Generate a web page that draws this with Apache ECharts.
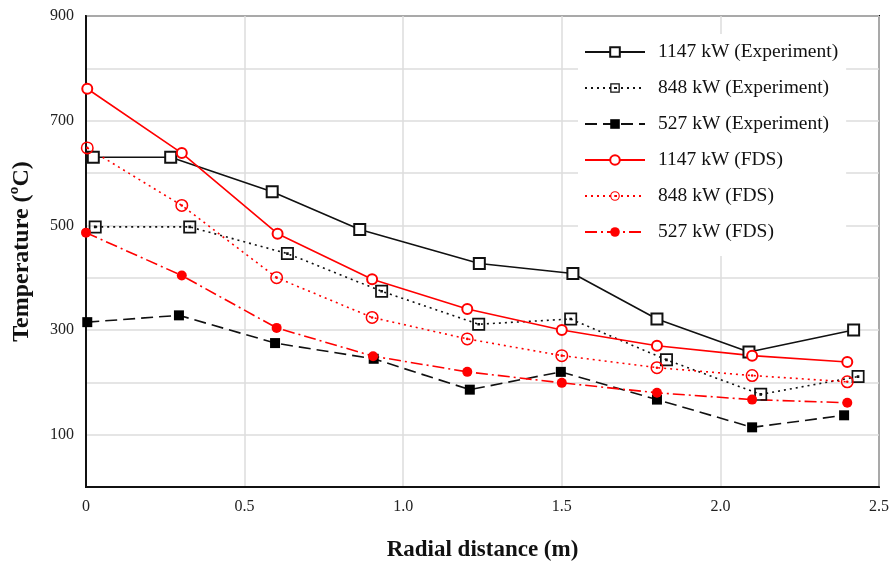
<!DOCTYPE html>
<html>
<head>
<meta charset="utf-8">
<script src="https://cdn.jsdelivr.net/npm/echarts@6/dist/echarts.min.js"></script>
<style>
  html, body { margin: 0; padding: 0; background: #fff; }
  #chart { width: 892px; height: 567px; }
</style>
</head>
<body>
<div id="chart"></div>
<script>
// values: [radial distance (m), temperature (C)]
const exp1147 = [[0.023, 630], [0.267, 630], [0.587, 564], [0.863, 492], [1.24, 427], [1.535, 408], [1.80, 321], [2.09, 258], [2.42, 300]];
const exp848  = [[0.029, 497], [0.327, 497], [0.635, 446], [0.932, 374], [1.238, 311], [1.528, 321], [1.83, 243], [2.127, 177], [2.434, 211]];
const exp527  = [[0.004, 315], [0.293, 328], [0.596, 275], [0.907, 245], [1.21, 186], [1.497, 220], [1.80, 167], [2.10, 114], [2.39, 137]];
const fds1147 = [[0.004, 761], [0.302, 638], [0.604, 484], [0.902, 397], [1.202, 340], [1.50, 300], [1.80, 270], [2.10, 251], [2.40, 239]];
const fds848  = [[0.004, 648], [0.302, 538], [0.601, 400], [0.902, 324], [1.202, 283], [1.50, 251], [1.80, 228], [2.10, 213], [2.40, 201]];
const fds527  = [[0.0, 486], [0.302, 404], [0.601, 304], [0.905, 250], [1.202, 220], [1.50, 199], [1.80, 180], [2.10, 167], [2.40, 161]];

const seriesNames = [
    '1147 kW (Experiment)', '848 kW (Experiment)', '527 kW (Experiment)',
    '1147 kW (FDS)', '848 kW (FDS)', '527 kW (FDS)'
];

const serif = '"Liberation Serif", "DejaVu Serif", serif';

// square outline with a dot in the middle, circle outline with a dot
const dotSquare = 'path://M0,0H12V12H0Z M1.6,1.6V10.4H10.4V1.6Z M4.8,4.8H7.2V7.2H4.8Z';
const dotCircle = 'path://M6,0A6,6 0 1,1 6,12A6,6 0 1,1 6,0Z M6,1.4A4.6,4.6 0 1,0 6,10.6A4.6,4.6 0 1,0 6,1.4Z M6,4.8A1.2,1.2 0 1,1 6,7.2A1.2,1.2 0 1,1 6,4.8Z';

function mkSeries(name, data, color, dash, symbol, size, itemStyle) {
    return {
        name: name,
        type: 'line',
        data: data,
        symbol: symbol,
        symbolSize: size,
        lineStyle: { color: color, width: 1.6, type: dash },
        itemStyle: itemStyle,
        emphasis: { disabled: true },
        z: 3
    };
}

const chart = echarts.init(document.getElementById('chart'));

const option = {
    backgroundColor: '#fff',
    animation: false,
    grid: {
        left: 86, right: 9, top: 16, bottom: 78,
        show: true, borderColor: '#111', borderWidth: 2
    },
    legend: {
        orient: 'vertical',
        left: 578, top: 34,
        data: seriesNames,
        itemWidth: 60, itemHeight: 12, itemGap: 16,
        backgroundColor: '#fff',
        padding: [8, 8, 14, 6],
        textStyle: { fontFamily: serif, fontSize: 19.5, color: '#111', padding: [0, 0, 0, 8] }
    },
    xAxis: {
        type: 'value',
        min: 0, max: 2.5, interval: 0.5,
        name: 'Radial distance (m)',
        nameLocation: 'middle',
        nameGap: 52,
        nameTextStyle: { fontFamily: serif, fontSize: 23, fontWeight: 'bold', color: '#111' },
        axisLine: { show: true, lineStyle: { color: '#111', width: 2 } },
        axisTick: { show: false },
        axisLabel: {
            fontFamily: serif, fontSize: 16, color: '#222', margin: 12,
            formatter: function (v) { return v === 0 ? '0' : v.toFixed(1); }
        },
        splitLine: { show: true, lineStyle: { color: '#dcdcdc', width: 1.5 } }
    },
    yAxis: {
        type: 'value',
        min: 0, max: 900, interval: 100,
        name: 'Temperature (ºC)',
        nameLocation: 'middle',
        nameGap: 52,
        nameTextStyle: { fontFamily: serif, fontSize: 24, fontWeight: 'bold', color: '#111' },
        axisLine: { show: true, lineStyle: { color: '#111', width: 2 } },
        axisTick: { show: false },
        axisLabel: {
            fontFamily: serif, fontSize: 16, color: '#222', margin: 12,
            formatter: function (v) { return v % 200 === 100 ? String(v) : ''; }
        },
        splitLine: { show: true, lineStyle: { color: '#dcdcdc', width: 1.5 } }
    },
    series: [
        mkSeries(seriesNames[0], exp1147, '#111', 'solid', 'emptyRect', 11,
            { color: '#111', borderColor: '#111', borderWidth: 1.5 }),
        mkSeries(seriesNames[1], exp848, '#111', [2, 4], dotSquare, 13,
            { color: '#111', borderWidth: 0 }),
        mkSeries(seriesNames[2], exp527, '#111', [12, 6], 'rect', 10,
            { color: '#000', borderWidth: 0 }),
        mkSeries(seriesNames[3], fds1147, '#f00', 'solid', 'emptyCircle', 10,
            { color: '#f00', borderColor: '#f00', borderWidth: 1.3 }),
        mkSeries(seriesNames[4], fds848, '#f00', [2, 4], dotCircle, 13,
            { color: '#f00', borderWidth: 0 }),
        mkSeries(seriesNames[5], fds527, '#f00', [12, 4, 2, 4], 'circle', 10,
            { color: '#f00', borderWidth: 0 })
    ]
};

chart.setOption(option);
</script>
</body>
</html>
